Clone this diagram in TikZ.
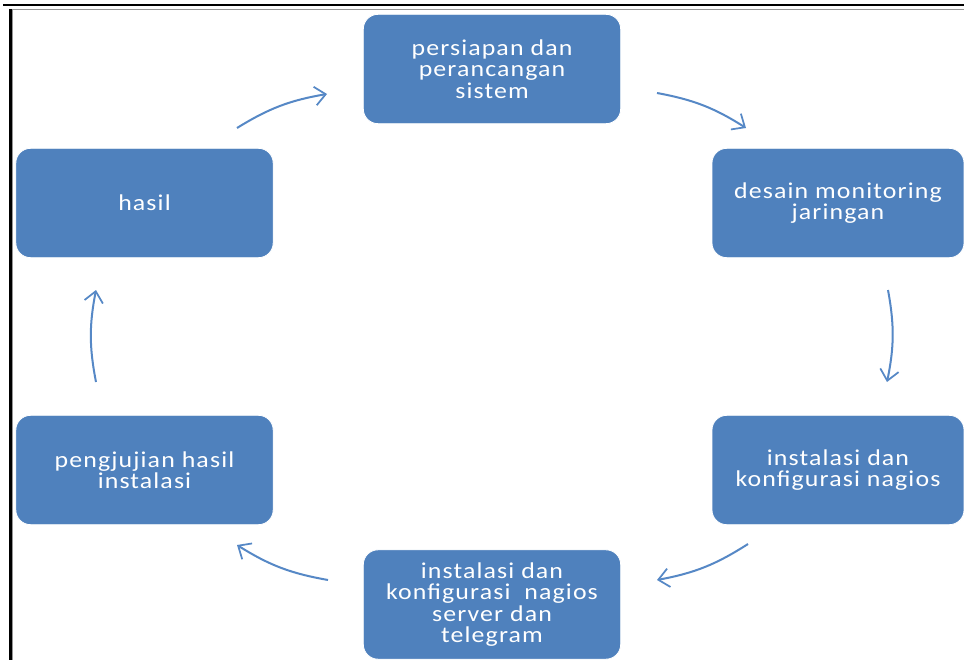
\documentclass[tikz,border=0pt]{standalone}
\usepackage{fontspec}
\setmainfont[FakeStretch=1.14,LetterSpace=5]{Carlito}
\usetikzlibrary{arrows.meta}
\definecolor{boxblue}{RGB}{79,129,189}
\definecolor{arrowblue}{RGB}{86,136,198}
\definecolor{framegray}{RGB}{150,150,150}
\tikzset{
  stepbox/.style={rectangle, rounded corners=11pt, fill=boxblue, draw=white, line width=0.6pt,
    text=white, align=center, font=\fontsize{17}{16}\selectfont,
    minimum width=193pt, minimum height=82pt, inner sep=0pt},
  flowarrow/.style={draw=arrowblue, line width=1.5pt, bend left=11,
    -{Straight Barb[length=8pt,width=14pt,line width=1.3pt]}},
}
\begin{document}
\begin{tikzpicture}[x=0.75pt,y=-0.75pt]
\clip (0,0) rectangle (964,660);
\fill[white] (0,0) rectangle (964,660);
% frame
\draw[black, line width=1.6pt] (3,5) -- (964,5);
\draw[framegray, line width=1.2pt] (10,9.5) -- (964,9.5);
\draw[black, line width=1.8pt] (10.3,9) -- (10.3,660);
\draw[framegray, line width=0.8pt] (12.4,10) -- (12.4,660);
% nodes
\node[stepbox] (a) at (492,69) {persiapan dan\\perancangan\\sistem};
\node[stepbox, minimum width=189pt] (b) at (838,203) {desain monitoring\\jaringan};
\node[stepbox, minimum width=189pt] (c) at (838,470) {instalasi dan\\konfigurasi nagios};
\node[stepbox] (d) at (492,604.5) {instalasi dan\\konfigurasi~ nagios\\server dan\\telegram};
\node[stepbox] (e) at (144.5,470) {pengjujian hasil\\instalasi};
\node[stepbox] (f) at (144.5,203) {hasil};
% arrow end points
\coordinate (a1) at (657,93);  \coordinate (a2) at (746,128);
\coordinate (b1) at (888,290); \coordinate (b2) at (887,382);
\coordinate (c1) at (748,544); \coordinate (c2) at (657,580);
\coordinate (d1) at (328,580); \coordinate (d2) at (237,545);
\coordinate (e1) at (96,382);  \coordinate (e2) at (96,290);
\coordinate (f1) at (237,128); \coordinate (f2) at (327,94);
\draw[flowarrow] (a1) to (a2);
\draw[flowarrow] (b1) to (b2);
\draw[flowarrow] (c1) to (c2);
\draw[flowarrow] (d1) to (d2);
\draw[flowarrow] (e1) to (e2);
\draw[flowarrow] (f1) to (f2);
\end{tikzpicture}
\end{document}
